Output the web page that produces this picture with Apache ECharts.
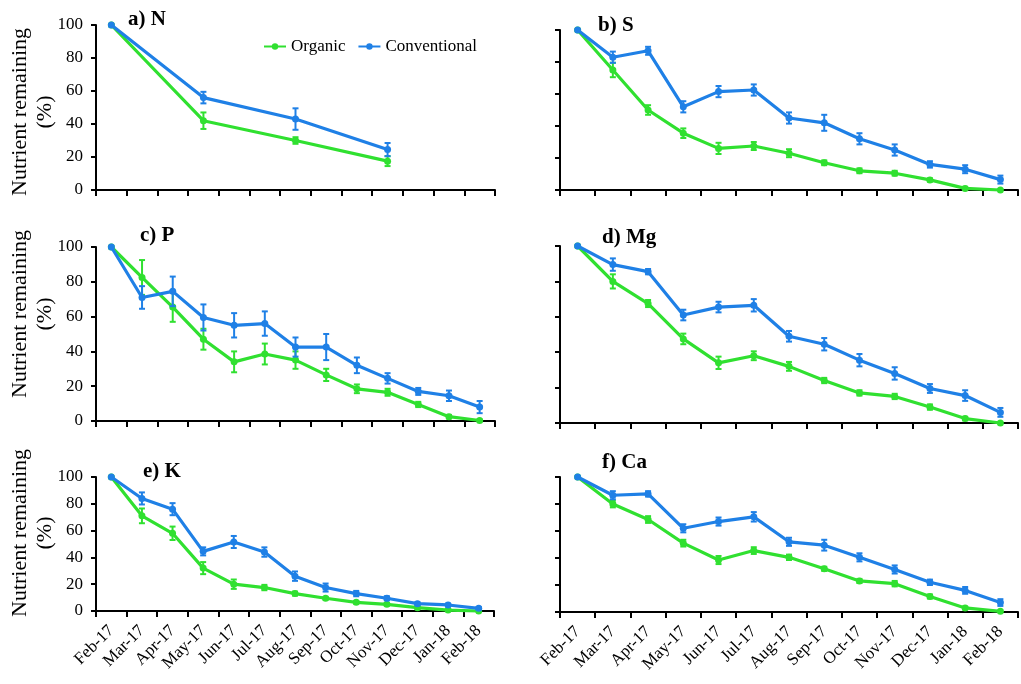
<!DOCTYPE html>
<html>
<head>
<meta charset="utf-8">
<script src="https://cdn.jsdelivr.net/npm/echarts@6/dist/echarts.min.js"></script>
<style>
  html, body { margin: 0; padding: 0; background: #fff; }
  #chart { width: 1021px; height: 684px; }
</style>
</head>
<body>
<div id="chart"></div>
<script>
// Sampling months (Feb 2017 to Feb 2018)
const months = ['Feb-17', 'Mar-17', 'Apr-17', 'May-17', 'Jun-17', 'Jul-17', 'Aug-17',
  'Sep-17', 'Oct-17', 'Nov-17', 'Dec-17', 'Jan-18', 'Feb-18'];
const yTicks = [0, 20, 40, 60, 80, 100];

// a) N  (sampled quarterly)
const orgN = [100, null, null, 42, null, null, 30, null, null, 17.5, null, null, null];
const orgNErr = [0, null, null, 5, null, null, 2, null, null, 3, null, null, null];
const conN = [100, null, null, 56, null, null, 43, null, null, 24.5, null, null, null];
const conNErr = [0, null, null, 3.5, null, null, 6.5, null, null, 4, null, null, null];

// b) S
const orgS = [100, 75, 50, 35.5, 26, 27.5, 23, 17, 12, 10.5, 6.3, 1, 0];
const orgSErr = [0, 4.5, 3, 3, 3.5, 2.5, 2.5, 1.5, 1.5, 1.5, 1, 1, 0];
const conS = [100, 83, 87, 52, 61.5, 62.5, 45, 42, 32, 25, 16, 13, 6.5];
const conSErr = [0, 3.5, 2.5, 3.5, 3.5, 3.5, 3.5, 5, 3.5, 3.5, 2, 2.5, 2.5];

// c) P
const orgP = [100, 82.5, 65.5, 47, 34, 38.5, 35, 26.5, 18.5, 16.5, 9.5, 2.5, 0.3];
const orgPErr = [0, 10, 8.5, 6, 6, 6, 5, 3.5, 2.5, 2, 1.5, 1, 0.5];
const conP = [100, 71, 74.5, 59.5, 55, 56, 42.5, 42.5, 32, 24.5, 17, 14.5, 8];
const conPErr = [0, 6.5, 8.5, 7.5, 7, 7, 5.5, 7.5, 4.5, 3, 2, 3, 3.5];

// d) Mg
const orgMg = [100, 80, 67.5, 47.5, 34, 38, 32, 24, 17, 15, 9, 2.5, 0];
const orgMgErr = [0, 4, 2, 3, 3.5, 2.5, 2.5, 1.5, 1.5, 1.5, 1.5, 1, 0];
const conMg = [100, 89.5, 85.5, 61, 65.5, 66.5, 49, 44.5, 35.5, 28, 19.5, 15.5, 6];
const conMgErr = [0, 3.5, 1.5, 3, 3, 3.5, 3, 3.5, 3.5, 3.5, 2.5, 3, 2.5];

// e) K
const orgK = [100, 71, 58, 32, 20, 17.5, 13, 9.5, 6.5, 5, 2.5, 0.7, 0];
const orgKErr = [0, 5.5, 5, 4.5, 3.5, 2, 1.5, 1, 1, 1, 0.8, 0.5, 0];
const conK = [100, 84, 76, 44.5, 51.5, 44, 26, 17.5, 13, 9.5, 5.5, 4.5, 2];
const conKErr = [0, 4.5, 4.5, 3, 4.5, 3.5, 3.5, 3, 2, 1.5, 1, 1, 1];

// f) Ca
const orgCa = [100, 80, 68.5, 51, 38.5, 45.5, 40.5, 32, 23, 21, 11.5, 3, 0.5];
const orgCaErr = [0, 2.5, 2.5, 2.5, 3, 2.5, 2, 1.5, 1.5, 2, 1.5, 1, 0];
const conCa = [100, 86.5, 87.5, 62, 67, 70.5, 52, 49.5, 40.5, 31.5, 22, 16, 7];
const conCaErr = [0, 3, 2, 3, 3, 3.5, 3, 4, 3, 3, 2, 2.5, 2.5];

const panels = [
  { title: 'a) N',  org: orgN,  orgErr: orgNErr,  con: conN,  conErr: conNErr,  grid: { left: 96,  top: 25,  width: 399, height: 165 }, titlePos: [128, 9],  yName: [33, 112] },
  { title: 'b) S',  org: orgS,  orgErr: orgSErr,  con: conS,  conErr: conSErr,  grid: { left: 560, top: 30,  width: 458, height: 160 }, titlePos: [598, 15] },
  { title: 'c) P',  org: orgP,  orgErr: orgPErr,  con: conP,  conErr: conPErr,  grid: { left: 96,  top: 247, width: 399, height: 174 }, titlePos: [140, 225], yName: [33, 314] },
  { title: 'd) Mg', org: orgMg, orgErr: orgMgErr, con: conMg, conErr: conMgErr, grid: { left: 560, top: 246, width: 458, height: 177 }, titlePos: [602, 227] },
  { title: 'e) K',  org: orgK,  orgErr: orgKErr,  con: conK,  conErr: conKErr,  grid: { left: 96,  top: 477, width: 398, height: 134 }, titlePos: [143, 461], yName: [33, 533], xLabels: true },
  { title: 'f) Ca', org: orgCa, orgErr: orgCaErr, con: conCa, conErr: conCaErr, grid: { left: 560, top: 477, width: 458, height: 135 }, titlePos: [602, 452], xLabels: true }
];

const GREEN = '#30e030';
const BLUE = '#1f80e6';
const SERIF = '"Liberation Serif", "Times New Roman", serif';

function errData(vals, errs) {
  const out = [];
  vals.forEach((v, i) => {
    if (v !== null && errs[i]) out.push([i, v, errs[i]]);
  });
  return out;
}

function errorBars(color) {
  return function (params, api) {
    const x = api.value(0), y = api.value(1), e = api.value(2);
    const hi = api.coord([x, y + e]);
    const lo = api.coord([x, y - e]);
    const cap = 3;
    const st = { stroke: color, lineWidth: 2 };
    return {
      type: 'group',
      children: [
        { type: 'line', shape: { x1: hi[0], y1: hi[1], x2: lo[0], y2: lo[1] }, style: st },
        { type: 'line', shape: { x1: hi[0] - cap, y1: hi[1], x2: hi[0] + cap, y2: hi[1] }, style: st },
        { type: 'line', shape: { x1: lo[0] - cap, y1: lo[1], x2: lo[0] + cap, y2: lo[1] }, style: st }
      ]
    };
  };
}

const grids = [], xAxes = [], yAxes = [], series = [], graphics = [];

panels.forEach((p, k) => {
  grids.push(Object.assign({ containLabel: false }, p.grid));
  const isLeft = k % 2 === 0;
  xAxes.push({
    type: 'category', gridIndex: k, data: months, boundaryGap: true,
    axisLine: { lineStyle: { color: '#000', width: 2 } },
    axisTick: { show: true, length: 6, lineStyle: { color: '#000', width: 2 } },
    axisLabel: {
      show: !!p.xLabels, rotate: 45, interval: 0, margin: 17,
      fontFamily: SERIF, fontSize: 17, color: '#000'
    },
    splitLine: { show: false }
  });
  yAxes.push({
    type: 'value', gridIndex: k, min: 0, max: 100, interval: 20,
    axisLine: { show: true, lineStyle: { color: '#000', width: 2 } },
    axisTick: { show: true, length: 5, lineStyle: { color: '#000', width: 2 } },
    axisLabel: { show: isLeft, fontFamily: SERIF, fontSize: 17, color: '#000', margin: 13 },
    splitLine: { show: false }
  });

  series.push({
    name: 'Organic', type: 'line', xAxisIndex: k, yAxisIndex: k,
    data: p.org, connectNulls: true, clip: false,
    symbol: 'circle', symbolSize: 7,
    lineStyle: { color: GREEN, width: 3.2 }, itemStyle: { color: GREEN },
    z: 2, animation: false
  });
  series.push({
    type: 'custom', xAxisIndex: k, yAxisIndex: k, clip: false,
    renderItem: errorBars(GREEN), data: errData(p.org, p.orgErr),
    z: 2, animation: false, silent: true
  });
  series.push({
    name: 'Conventional', type: 'line', xAxisIndex: k, yAxisIndex: k,
    data: p.con, connectNulls: true, clip: false,
    symbol: 'circle', symbolSize: 7,
    lineStyle: { color: BLUE, width: 3.2 }, itemStyle: { color: BLUE },
    z: 3, animation: false
  });
  series.push({
    type: 'custom', xAxisIndex: k, yAxisIndex: k, clip: false,
    renderItem: errorBars(BLUE), data: errData(p.con, p.conErr),
    z: 3, animation: false, silent: true
  });

  graphics.push({
    type: 'text', left: p.titlePos[0], top: p.titlePos[1],
    style: { text: p.title, font: 'bold 21px ' + SERIF, fill: '#000' }
  });
  if (p.yName) {
    graphics.push({
      type: 'text', x: p.yName[0], y: p.yName[1], rotation: Math.PI / 2,
      style: {
        text: 'Nutrient remaining\n(%)', font: '22px ' + SERIF, fill: '#000',
        align: 'center', verticalAlign: 'middle', lineHeight: 25
      }
    });
  }
});

const chart = echarts.init(document.getElementById('chart'), null, { renderer: 'canvas' });
chart.setOption({
  backgroundColor: '#fff',
  animation: false,
  grid: grids,
  xAxis: xAxes,
  yAxis: yAxes,
  series: series,
  legend: {
    data: ['Organic', 'Conventional'],
    left: 258, top: 33, itemWidth: 22, itemHeight: 8, itemGap: 12,
    textStyle: { fontFamily: SERIF, fontSize: 17, color: '#000' }
  },
  graphic: graphics
});
</script>
</body>
</html>
